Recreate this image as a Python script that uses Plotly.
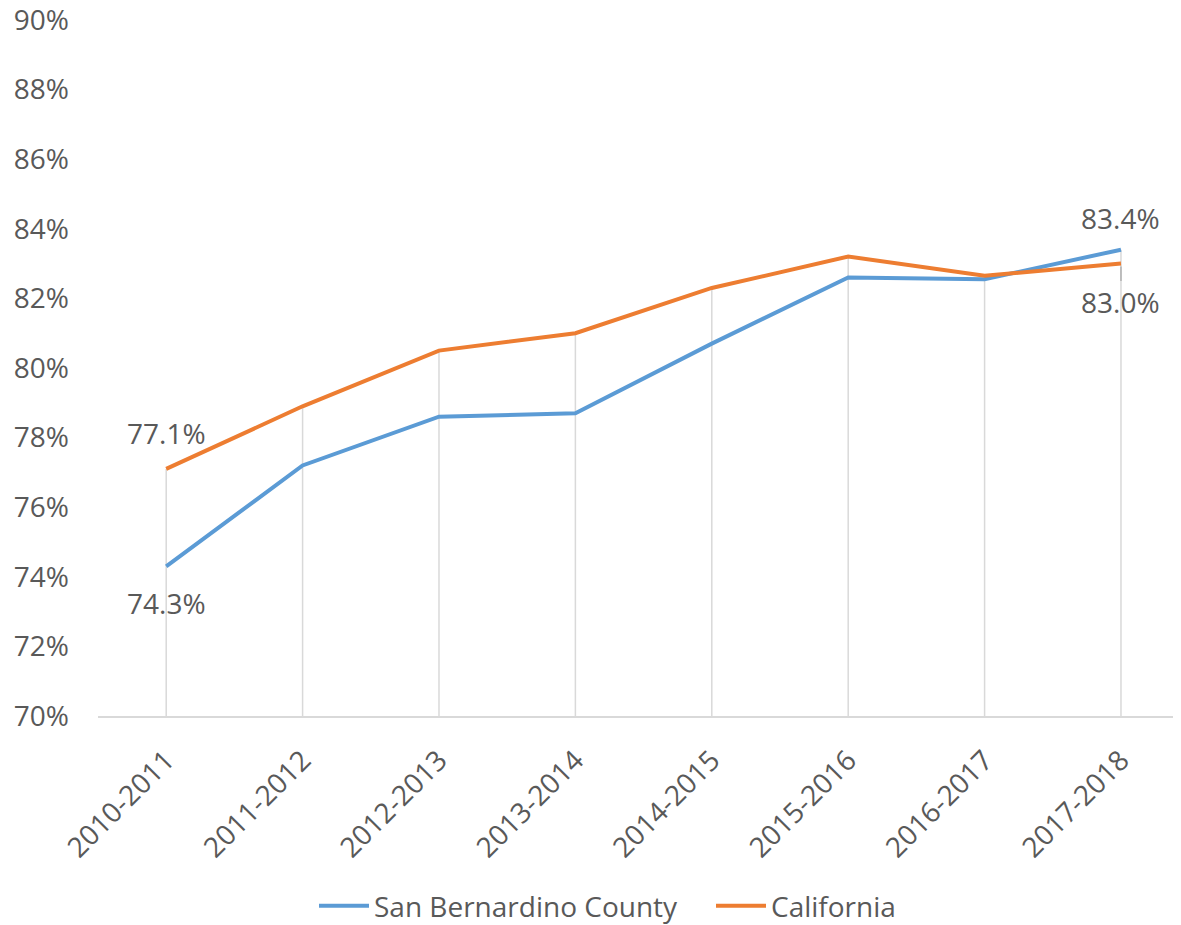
import plotly.graph_objects as go

categories = ["2010-2011", "2011-2012", "2012-2013", "2013-2014",
              "2014-2015", "2015-2016", "2016-2017", "2017-2018"]
san_bernardino = [0.743, 0.772, 0.786, 0.787, 0.807, 0.826, 0.8255, 0.834]
california = [0.771, 0.789, 0.805, 0.810, 0.823, 0.832, 0.8265, 0.830]

y_ticks = [0.70, 0.72, 0.74, 0.76, 0.78, 0.80, 0.82, 0.84, 0.86, 0.88, 0.90]

FONT = "Open Sans"
FS = 28
TXT = "#595959"
BLUE = "#5B9BD5"
ORANGE = "#ED7D31"

# the page body has an 8px default margin, so the figure is sized to fill the rest
W, H, OFF = 1173, 917, 8

fig = go.Figure()

# drop lines from the higher point to the axis
dx, dy = [], []
for c, a, b in zip(categories, san_bernardino, california):
    dx += [c, c, None]
    dy += [y_ticks[0], max(a, b), None]
fig.add_trace(go.Scatter(x=dx, y=dy, mode="lines", line=dict(color="#D9D9D9", width=1.5),
                         showlegend=False, hoverinfo="skip"))

fig.add_trace(go.Scatter(x=categories, y=san_bernardino, mode="lines", name="San Bernardino County",
                         line=dict(color=BLUE, width=4)))
fig.add_trace(go.Scatter(x=categories, y=california, mode="lines", name="California",
                         line=dict(color=ORANGE, width=4)))

def lab(i, series, shift, arrow=False):
    v = series[i]
    d = dict(x=categories[i], y=v, text=f"{v*100:.1f}%", font=dict(family=FONT, size=FS, color=TXT))
    if arrow:
        d.update(showarrow=True, ax=0, ay=shift, arrowhead=0, arrowwidth=1.2,
                 arrowcolor="#A6A6A6", standoff=3)
    else:
        d.update(showarrow=False, yshift=-shift)
    fig.add_annotation(**d)

lab(0, california, -36)
lab(0, san_bernardino, 37)
lab(7, san_bernardino, -32)
lab(7, california, 38, arrow=True)

fig.update_layout(
    width=W, height=H,
    margin=dict(l=98 - OFF, r=0, t=20 - OFF, b=209),
    paper_bgcolor="white", plot_bgcolor="white",
    font=dict(family=FONT, size=FS, color=TXT),
    legend=dict(orientation="h", xref="container", yref="container",
                x=(314 - OFF) / W, xanchor="left", y=1 - (906 - OFF) / H, yanchor="middle",
                font=dict(family=FONT, size=FS, color=TXT), itemwidth=50,
                entrywidth=332, entrywidthmode="pixels"),
    xaxis=dict(type="category", range=[-0.5, 7.44], tickangle=-45, showgrid=False,
               showline=True, linecolor="#D9D9D9", linewidth=1.5, ticks="", automargin=False,
               ticklabelstandoff=15, tickfont=dict(family=FONT, size=FS, color=TXT)),
    yaxis=dict(range=[0.70, 0.90], tickvals=y_ticks, tickformat=".0%", showgrid=False,
               zeroline=False, showline=False, ticks="", automargin=False,
               ticklabeloverflow="allow", ticklabelstandoff=28,
               tickfont=dict(family=FONT, size=FS, color=TXT)),
)

fig.write_html("out.html")
